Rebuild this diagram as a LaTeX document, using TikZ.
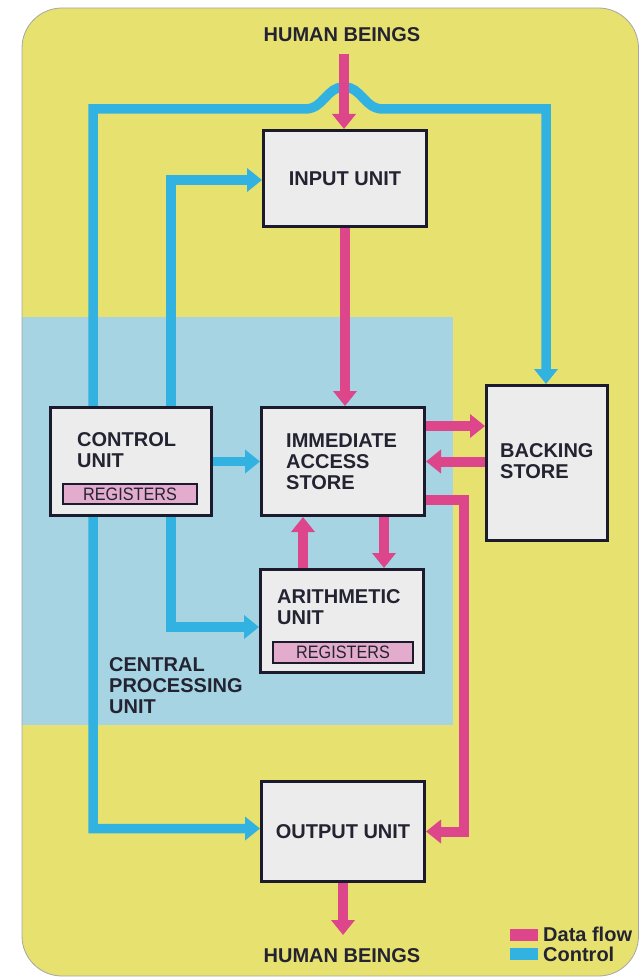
\documentclass[tikz,border=0pt]{standalone}
\usepackage{fontspec}
\setmainfont{Liberation Sans}
\newfontfamily\regfont[FakeStretch=0.9]{Liberation Sans}
\usetikzlibrary{arrows.meta,calc}
\definecolor{cardyellow}{RGB}{231,225,112}
\definecolor{cpublue}{RGB}{166,212,226}
\definecolor{ctrlblue}{RGB}{50,178,225}
\definecolor{datapink}{RGB}{222,70,140}
\definecolor{regpink}{RGB}{228,172,204}
\definecolor{boxfill}{RGB}{236,236,236}
\definecolor{boxline}{RGB}{28,26,45}
\definecolor{ink}{RGB}{35,35,50}
\newcommand\mylines[1]{\vtop{\baselineskip=21pt\halign{##\hfil\cr#1\crcr}}}
\pgfdeclarelayer{back}
\pgfdeclarelayer{lines}
\pgfsetlayers{back,lines,main}
\begin{document}
\begin{tikzpicture}[x=1pt,y=-1pt,
  lbl/.style={font=\fontsize{20pt}{21pt}\selectfont\bfseries, text=ink, inner sep=0pt},
  unitbox/.style={draw=boxline, line width=3pt, fill=boxfill, inner sep=0pt,
    font=\fontsize{20pt}{21pt}\selectfont\bfseries, text=ink},
  regbox/.style={draw=boxline, line width=1.3pt, fill=regpink, inner sep=0pt,
    font=\fontsize{18pt}{18pt}\regfont, text=ink},
  swatch/.style={inner sep=0pt, minimum width=28pt, minimum height=12pt},
  ctrl/.style={draw=ctrlblue, line width=9.5pt},
  data/.style={draw=datapink, line width=10pt},
  >={Triangle[width=23pt,length=15pt]}
]
\useasboundingbox (0,0) rectangle (639,979);

% boxes
\node[unitbox, minimum width=163pt, minimum height=96pt] (input) at (345,178.5) {INPUT UNIT};
\node[unitbox, minimum width=161pt, minimum height=108pt] (control) at (131,461.5) {};
\node[unitbox, minimum width=163pt, minimum height=108pt] (ias) at (343,461.5) {};
\node[unitbox, minimum width=121pt, minimum height=155pt] (backing) at (547,463) {};
\node[unitbox, minimum width=163pt, minimum height=103pt] (arith) at (342,621) {};
\node[unitbox, minimum width=163pt, minimum height=100pt] (output) at (343,831.5) {OUTPUT UNIT};

\node[regbox, minimum width=134pt, minimum height=20pt] (reg1) at (130,494) {REGISTERS};
\node[regbox, minimum width=140pt, minimum height=21pt] (reg2) at (343,652.5) {REGISTERS};

% labels
\node[lbl, anchor=base] (hbt) at (342,42) {HUMAN BEINGS};
\node[lbl, anchor=base] (hbb) at (342,962) {HUMAN BEINGS};
\node[lbl, anchor=base west] (cul) at (77,446) {\mylines{CONTROL\cr UNIT}};
\node[lbl, anchor=base west] (iasl) at (286,447) {\mylines{IMMEDIATE\cr ACCESS\cr STORE}};
\node[lbl, anchor=base west] (bsl) at (500,457) {\mylines{BACKING\cr STORE}};
\node[lbl, anchor=base west] (arl) at (277,603) {\mylines{ARITHMETIC\cr UNIT}};
\node[lbl, anchor=base west] (cpul) at (109,671) {\mylines{CENTRAL\cr PROCESSING\cr UNIT}};

% legend
\node[swatch, fill=datapink] (sw1) at (524,935) {};
\node[swatch, fill=ctrlblue] (sw2) at (524,954) {};
\node[lbl, anchor=base west] (lg1) at (543,941) {Data flow};
\node[lbl, anchor=base west] (lg2) at (543,961) {Control};

% coordinates
\coordinate (hbtop) at (344,54);
\coordinate (hbbot) at (343,935);
\coordinate (tl) at (93,109);
\coordinate (tr) at (546,109);
\coordinate (c2) at (171,0);
\coordinate (upx) at (303,0);
\coordinate (dnx) at (384,0);
\coordinate (px) at (464,0);

\begin{pgfonlayer}{back}
  \fill[white] (0,0) rectangle (639,979);
  \fill[cardyellow, rounded corners=40pt] (22,8) rectangle (638.5,976);
  \fill[cpublue] (22,317) rectangle (453,725);
\end{pgfonlayer}

\begin{pgfonlayer}{lines}
  % control
  \draw[ctrl,<->] ($(output.west)+(0,-3)$) -- ($(output.west -| tl)+(0,-3)$) -- (tl) -- (305,109)
     .. controls (324,109) and (326,87) .. (344,87)
     .. controls (362,87) and (364,109) .. (383,109) -- (tr) -- (tr |- backing.north);
  \draw[ctrl,<->] ($(input.west)+(0,1.5)$) -- ($(input.west -| c2)+(0,1.5)$) -- ($(arith.west -| c2)+(0,6)$) -- ($(arith.west)+(0,6)$);
  \draw[ctrl,->] (control.east) -- (ias.west);
  % data
  \draw[data,->] (hbtop) -- (hbtop |- input.north);
  \draw[data,->] (input.south) -- (input.south |- ias.north);
  \draw[data,->] ($(ias.east)+(0,-35.5)$) -- ($(backing.west |- ias.east)+(0,-35.5)$);
  \draw[data,->] (backing.west |- ias.east) -- (ias.east);
  \draw[data,->] ($(ias.east)+(0,38.5)$) -- ($(px |- ias.east)+(0,38.5)$) -- (px |- output.east) -- (output.east);
  \draw[data,->] (arith.north -| upx) -- (ias.south -| upx);
  \draw[data,->] (ias.south -| dnx) -- (arith.north -| dnx);
  \draw[data,->] (output.south) -- (hbbot);
\end{pgfonlayer}

\draw[gray!70, line width=0.8pt, rounded corners=40pt] (22,8) rectangle (638.5,976);
\end{tikzpicture}
\end{document}
